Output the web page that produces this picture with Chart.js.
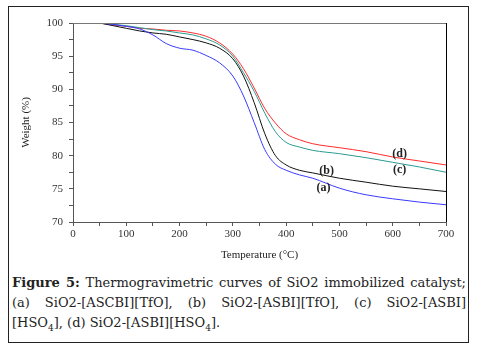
<!DOCTYPE html>
<html>
<head>
<meta charset="utf-8">
<script src="https://cdn.jsdelivr.net/npm/chart.js@4"></script>
<style>
    body { margin: 0; background: #fff; }
    #frame { position: absolute; left: 8px; top: 6px; width: 459px; height: 335px; border: 1px solid #222; }
    #tga { position: absolute; left: 9px; top: 7px; }
    .cap { position: absolute; left: 12px; width: 454px; font-family: 'DejaVu Serif', serif; font-size: 13px; line-height: 20px; color: #222; white-space: nowrap; }
    .just { text-align: justify; text-align-last: justify; }
</style>
</head>
<body>
<div id="frame"></div>
<canvas id="tga" width="459" height="255"></canvas>
<div class="cap just" style="top:273px;"><b>Figure 5:</b> Thermogravimetric curves of SiO2 immobilized catalyst;</div>
<div class="cap just" style="top:293px;">(a) SiO2-[ASCBI][TfO], (b) SiO2-[ASBI][TfO], (c) SiO2-[ASBI]</div>
<div class="cap" style="top:313px;">[HSO<sub style="font-size:9px;line-height:0;">4</sub>], (d) SiO2-[ASBI][HSO<sub style="font-size:9px;line-height:0;">4</sub>].</div>
<script>
// temperatura (°C) comune a tutte le curve
const temps = [50, 75, 100, 125, 150, 175, 200, 225, 250, 275, 300, 320, 340, 360, 380, 400, 425, 450, 500, 550, 600, 650, 700];
// peso residuo (%)
const weightA = [100, 99.8, 99.5, 99.1, 98.2, 96.9, 96.2, 95.9, 95.1, 94.0, 92.0, 89.0, 85.0, 80.9, 78.7, 77.8, 77.1, 76.6, 75.1, 74.1, 73.5, 73.0, 72.6];
const weightB = [100, 99.6, 99.2, 98.8, 98.5, 98.3, 97.9, 97.5, 97.0, 96.2, 94.6, 92.0, 88.0, 83.3, 80.0, 78.6, 77.8, 77.4, 76.6, 76.0, 75.4, 75.0, 74.6];
const weightC = [100, 99.8, 99.6, 99.3, 99.0, 98.8, 98.5, 98.2, 97.6, 96.7, 95.0, 92.5, 89.7, 86.4, 83.6, 82.0, 81.3, 80.8, 80.3, 79.7, 79.0, 78.3, 77.5];
const weightD = [100, 99.7, 99.5, 99.2, 99.1, 98.9, 98.8, 98.5, 98.0, 97.0, 95.3, 93.1, 90.2, 87.1, 84.9, 83.3, 82.4, 81.8, 81.2, 80.6, 79.8, 79.2, 78.6];

// etichette delle curve (posizione in unita' dati)
const curveTags = ['(a)', '(b)', '(c)', '(d)'];
const tagTemps = [470, 476, 613, 613];
const tagWeights = [75.1, 77.7, 77.8, 80.3];

const serif = "'Liberation Serif', 'Times New Roman', serif";

const toPoints = (ys) => temps.map((t, i) => ({ x: t, y: ys[i] }));

const frameAndTags = {
    id: 'frameAndTags',
    afterDraw(chart) {
        const { ctx, chartArea: a, scales } = chart;
        ctx.save();
        ctx.lineWidth = 1;
        ctx.strokeStyle = '#777';
        ctx.beginPath();
        ctx.moveTo(a.left, a.top + 0.5);
        ctx.lineTo(a.right, a.top + 0.5);
        ctx.stroke();
        ctx.strokeStyle = '#000';
        ctx.beginPath();
        ctx.moveTo(a.right + 0.5, a.top);
        ctx.lineTo(a.right + 0.5, a.bottom);
        ctx.stroke();
        ctx.fillStyle = '#222';
        ctx.font = 'bold 12px ' + serif;
        ctx.textAlign = 'center';
        ctx.textBaseline = 'middle';
        curveTags.forEach((t, i) => {
            ctx.fillText(t, scales.x.getPixelForValue(tagTemps[i]), scales.y.getPixelForValue(tagWeights[i]));
        });
        ctx.restore();
    }
};

const line = (data, color) => ({
    data: toPoints(data),
    borderColor: color,
    borderWidth: 1,
    pointRadius: 0,
    fill: false,
    cubicInterpolationMode: 'monotone'
});

new Chart(document.getElementById('tga'), {
    type: 'line',
    data: {
        datasets: [
            line(weightA, '#3a3aff'),
            line(weightB, '#111111'),
            line(weightC, '#2a9a90'),
            line(weightD, '#ff2a2a')
        ]
    },
    options: {
        responsive: false,
        animation: false,
        layout: { padding: { top: 16, right: 22, left: 0, bottom: 0 } },
        plugins: { legend: { display: false }, tooltip: { enabled: false } },
        scales: {
            x: {
                type: 'linear',
                min: 0,
                max: 700,
                afterFit: (s) => { s.height = 40; },
                border: { display: true, color: '#555' },
                grid: { drawOnChartArea: false, drawTicks: true, tickLength: 4, color: '#555' },
                ticks: {
                    stepSize: 50,
                    autoSkip: false,
                    maxRotation: 0,
                    padding: 2,
                    color: '#333',
                    font: { family: serif, size: 11 },
                    callback: (v) => v % 100 === 0 ? v : ''
                },
                title: {
                    display: true,
                    text: 'Temperature (°C)',
                    color: '#222',
                    font: { family: serif, size: 11 },
                    padding: { top: 5, bottom: 0 }
                }
            },
            y: {
                min: 70,
                max: 100,
                afterFit: (s) => { s.width = 64; },
                border: { display: true, color: '#555' },
                grid: { drawOnChartArea: false, drawTicks: true, tickLength: 4, color: '#555' },
                ticks: {
                    stepSize: 2.5,
                    autoSkip: false,
                    padding: 6,
                    color: '#333',
                    font: { family: serif, size: 11 },
                    callback: (v) => v % 5 === 0 ? v : ''
                },
                title: {
                    display: true,
                    text: 'Weight (%)',
                    color: '#222',
                    font: { family: serif, size: 11 },
                    padding: { top: 11, bottom: 0 }
                }
            }
        }
    },
    plugins: [frameAndTags]
});
</script>
</body>
</html>
